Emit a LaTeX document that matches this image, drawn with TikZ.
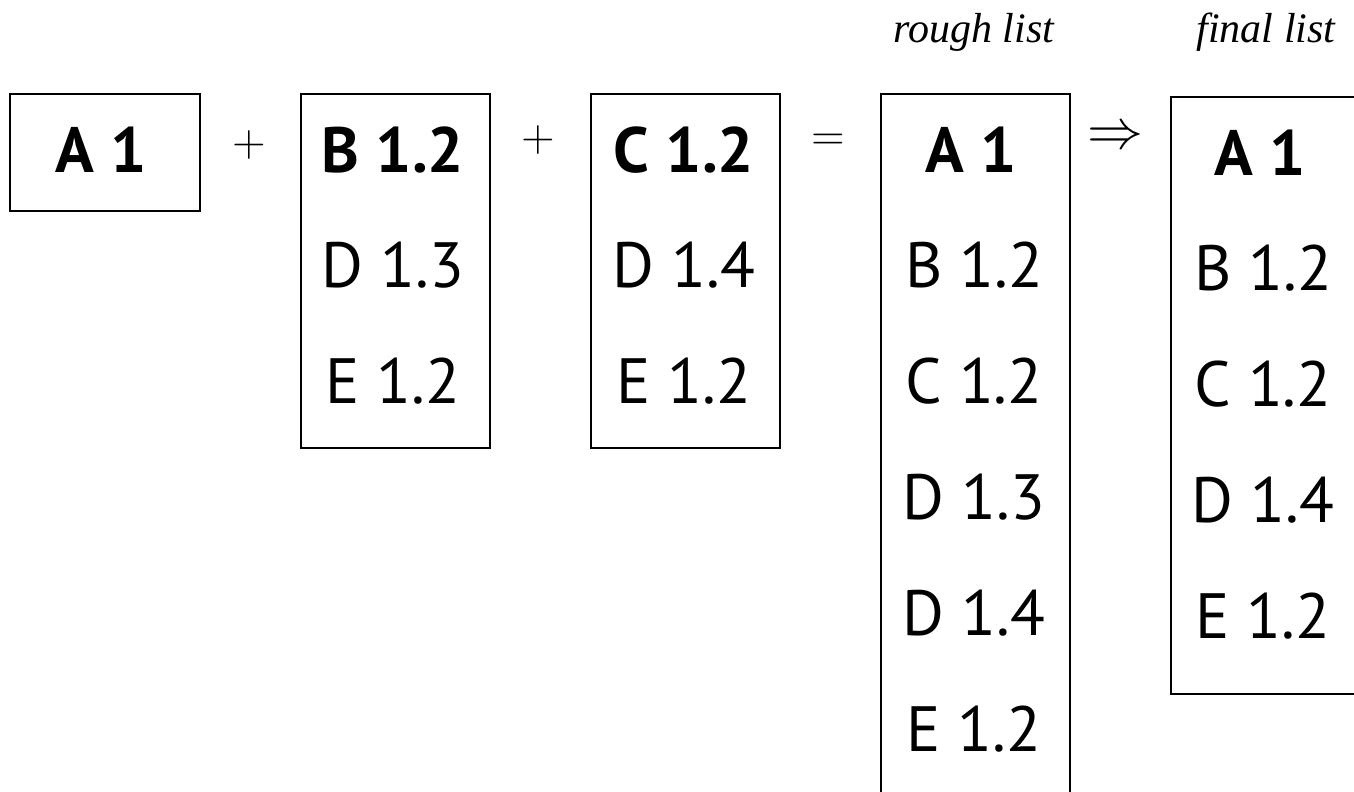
\documentclass[tikz,border=0pt]{standalone}
\usepackage{fix-cm}
\usepackage{fontspec}
\setmainfont{PT Sans}
\newfontfamily\captionfont{Liberation Serif}
\usetikzlibrary{positioning}

\tikzset{
  listbox/.style={draw, line width=2pt, minimum width=189pt, inner sep=0pt},
  entry/.style={font=\fontsize{64}{64}\selectfont, anchor=base, inner sep=0pt},
  head/.style={entry, font=\fontsize{64}{64}\selectfont\bfseries},
  op/.style={font=\fontsize{46}{46}\selectfont, inner sep=0pt},
  listcaption/.style={font=\captionfont\itshape\fontsize{42}{42}\selectfont, anchor=base, inner sep=0pt}
}

\begin{document}
\begin{tikzpicture}[x=1pt, y=-1pt]
    \useasboundingbox (0,0) rectangle (1354,792);
    \clip (0,0) rectangle (1354,792);

    % draw boxes
    \node[listbox, minimum width=190pt, minimum height=117pt] (boxA) at (105,152.5) {};
    \node[listbox, minimum height=354pt] (boxB) at (395.5,271) {};
    \node[listbox, minimum height=354pt] (boxC) at (685.5,271) {};
    \node[listbox, minimum height=740pt] (rough) at (975,464) {};
    \node[listbox, minimum height=597pt] (final) at (1265,395.5) {};

    % draw captions
    \node[listcaption] (roughcap) at (974,43) {rough list};
    \node[listcaption] (finalcap) at (1266,43) {final list};

    % draw heads
    \node[head] (headA) at (101,172) {A 1};
    \node[head] (headB) at (393,172) {B 1.2};
    \node[head] (headC) at (684,172) {C 1.2};
    \node[head] (headR) at (971,172) {A 1};
    \node[head] (headF) at (1260,175) {A 1};

    % draw entries
    \foreach \txt [count=\i] in {D 1.3, E 1.2}
      \node[entry] (b\i) at (393,{172+115.8*\i}) {\txt};
    \foreach \txt [count=\i] in {D 1.4, E 1.2}
      \node[entry] (c\i) at (684,{172+115.8*\i}) {\txt};
    \foreach \txt [count=\i] in {B 1.2, C 1.2, D 1.3, D 1.4, E 1.2}
      \node[entry] (r\i) at (974,{172+115.8*\i}) {\txt};
    \foreach \txt [count=\i] in {B 1.2, C 1.2, D 1.4, E 1.2}
      \node[entry] (f\i) at (1263,{175+115.8*\i}) {\txt};

    % draw operators
    \node[op] (plusA) at (249,145) {$+$};
    \node[op] (plusB) at (538,140) {$+$};
    \node[op] (equals) at (828,142) {$=$};
    \node[op, font=\fontsize{56}{56}\selectfont] (implies) at (1115,138) {$\Rightarrow$};
\end{tikzpicture}
\end{document}
